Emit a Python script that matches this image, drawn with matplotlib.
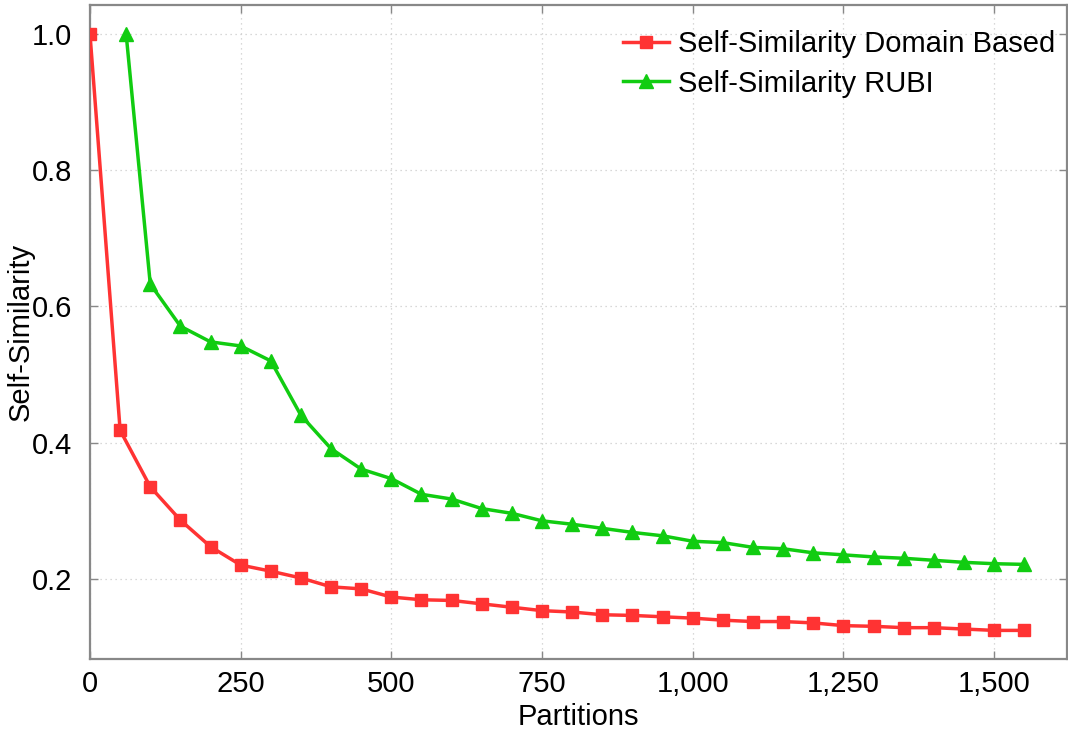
import matplotlib

matplotlib.use("Agg")
import matplotlib.pyplot as plt
from matplotlib.ticker import FuncFormatter

plt.rcParams["font.family"] = ["Liberation Sans", "DejaVu Sans"]

# Self-Similarity Domain Based
domain_x = list(range(0, 1551, 50))
domain_y = [1.0, 0.418, 0.335, 0.286, 0.247, 0.220, 0.211, 0.201, 0.188, 0.185,
            0.173, 0.169, 0.168, 0.163, 0.158, 0.153, 0.151, 0.147, 0.146, 0.144,
            0.142, 0.139, 0.137, 0.137, 0.135, 0.131, 0.130, 0.128, 0.128, 0.126,
            0.124, 0.124]

# Self-Similarity RUBI
rubi_x = [60] + list(range(100, 1551, 50))
rubi_y = [1.0, 0.633, 0.571, 0.548, 0.542, 0.520, 0.440, 0.391, 0.361, 0.347,
          0.324, 0.317, 0.303, 0.296, 0.285, 0.280, 0.274, 0.268, 0.263, 0.255,
          0.253, 0.246, 0.244, 0.238, 0.235, 0.232, 0.230, 0.227, 0.224, 0.222,
          0.221]

x_ticks = [0, 250, 500, 750, 1000, 1250, 1500]
y_ticks = [0.2, 0.4, 0.6, 0.8, 1.0]

fig = plt.figure(figsize=(10.68, 7.31), dpi=100)
ax = fig.add_axes([90 / 1068, 72.3 / 731, 977 / 1068, 653.4 / 731])

ax.plot(domain_x, domain_y, color="#ff3333", lw=2.5, marker="s", ms=8,
        label="Self-Similarity Domain Based", zorder=3)
ax.plot(rubi_x, rubi_y, color="#11cc11", lw=2.5, marker="^", ms=10,
        label="Self-Similarity RUBI", zorder=3)

ax.set_xlim(0, 1621)
ax.set_ylim(0.0824, 1.0426)
ax.set_xticks(x_ticks)
ax.set_yticks(y_ticks)
ax.xaxis.set_major_formatter(FuncFormatter(lambda v, p: f"{int(v):,}"))
ax.yaxis.set_major_formatter(FuncFormatter(lambda v, p: f"{v:.1f}"))

ax.tick_params(direction="in", length=6, width=1, color="#888888",
               top=True, right=True, labelsize=21)
ax.tick_params(axis="x", pad=8)
ax.tick_params(axis="y", pad=13)
for s in ax.spines.values():
    s.set_color("#888888")
    s.set_linewidth(1.6)
ax.grid(True, ls=(0, (1, 3)), color="#cccccc", lw=0.9)

ax.set_xlabel("Partitions", fontsize=21, labelpad=4)
ax.set_ylabel("Self-Similarity", fontsize=21)
ax.yaxis.set_label_coords(-0.057, 0.5)

ax.legend(loc="upper right", frameon=False, fontsize=21, handlelength=1.6,
          handletextpad=0.3, labelspacing=0.4, borderaxespad=0,
          bbox_to_anchor=(1.0, 0.98))

fig.savefig("out.png", dpi=100)
